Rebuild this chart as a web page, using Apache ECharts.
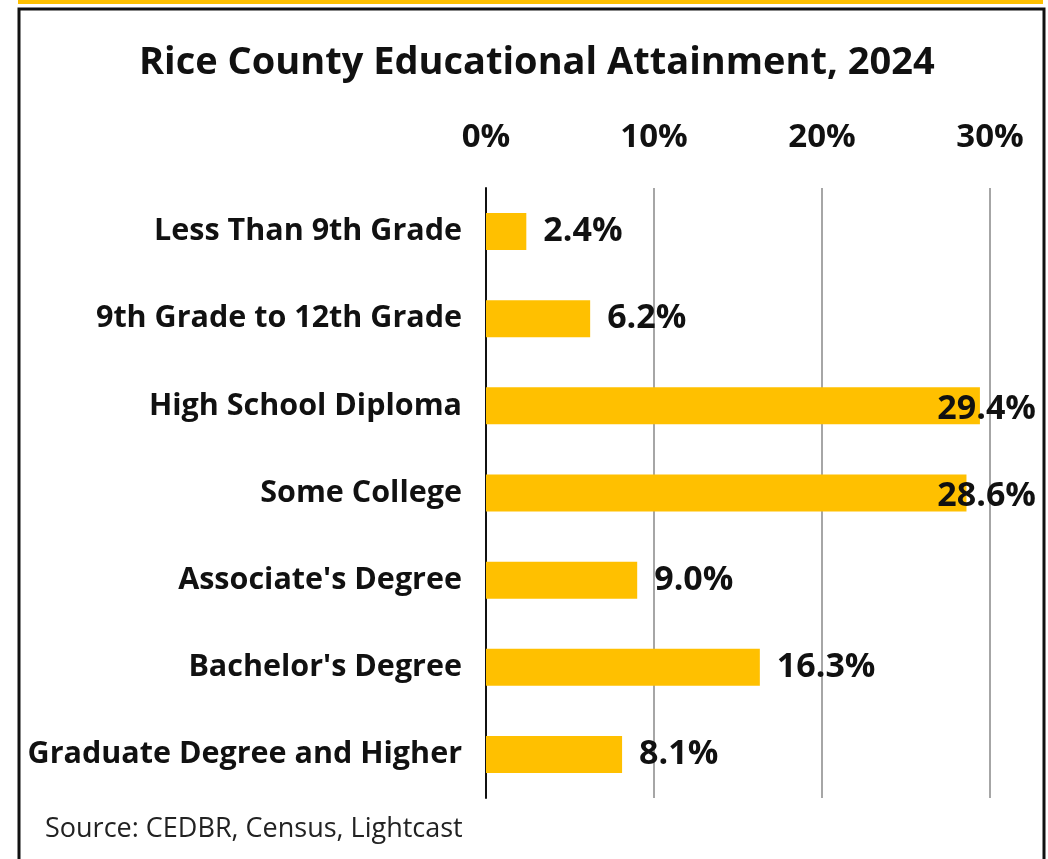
<!DOCTYPE html>
<html>
<head>
<meta charset="utf-8">
<script src="https://cdn.jsdelivr.net/npm/echarts@6/dist/echarts.min.js"></script>
<style>
  html, body { margin: 0; padding: 0; background: #fff; }
  #main { width: 1048px; height: 859px; }
</style>
</head>
<body>
<div id="main"></div>
<script>
// data
var categories = ['Less Than 9th Grade', '9th Grade to 12th Grade', 'High School Diploma',
  'Some College', "Associate's Degree", "Bachelor's Degree", 'Graduate Degree and Higher'];
var shares = [2.4, 6.2, 29.4, 28.6, 9.0, 16.3, 8.1];
var axisMax = 30;
var axisStep = 10;

var font = '"Open Sans"';
var chart = echarts.init(document.getElementById('main'));

var option = {
  animation: false,
  title: {
    text: 'Rice County Educational Attainment, 2024',
    left: 134,
    top: 39,
    textStyle: { fontFamily: font, fontSize: 38, fontWeight: 'bold', color: '#111' }
  },
  grid: { left: 486, right: 58, top: 188, bottom: 61 },
  xAxis: {
    type: 'value',
    position: 'top',
    min: 0,
    max: axisMax,
    interval: axisStep,
    axisLine: { show: false },
    axisTick: { show: false },
    axisLabel: {
      formatter: '{value}%',
      margin: 34,
      fontFamily: font, fontSize: 33, fontWeight: 'bold', color: '#111'
    },
    splitLine: { lineStyle: { color: '#a6a6a6', width: 2 } }
  },
  yAxis: {
    type: 'category',
    inverse: true,
    data: categories,
    axisLine: { lineStyle: { color: '#111', width: 2 } },
    axisTick: { show: false },
    axisLabel: {
      margin: 24,
      padding: [4, 0, 0, 0],
      fontFamily: font, fontSize: 30.5, fontWeight: 'bold', color: '#111'
    }
  },
  series: [{
    type: 'bar',
    data: shares,
    barWidth: 37,
    itemStyle: { color: '#FFC000' },
    label: {
      show: true,
      position: 'right',
      distance: 17,
      offset: [0, 3],
      formatter: function (p) { return p.value.toFixed(1) + '%'; },
      fontFamily: font, fontSize: 34, fontWeight: 'bold', color: '#111'
    },
    labelLayout: function (p) {
      var r = p.labelRect;
      if (r.x + r.width > 1036) {
        return { x: 1036 - r.width, y: r.y, align: 'left', verticalAlign: 'top' };
      }
      return {};
    }
  }],
  graphic: [
    { type: 'rect', shape: { x: 18, y: 0, width: 1025, height: 4 }, style: { fill: '#FFC000' } },
    { type: 'polyline', shape: { points: [[19, 870], [19, 9], [1044, 9], [1044, 870]] },
      style: { stroke: '#111', lineWidth: 3, fill: null } },
    { type: 'text', left: 45, top: 816,
      style: { text: 'Source: CEDBR, Census, Lightcast', font: '27px ' + font, fill: '#222' } }
  ]
};

chart.setOption(option);
</script>
</body>
</html>
